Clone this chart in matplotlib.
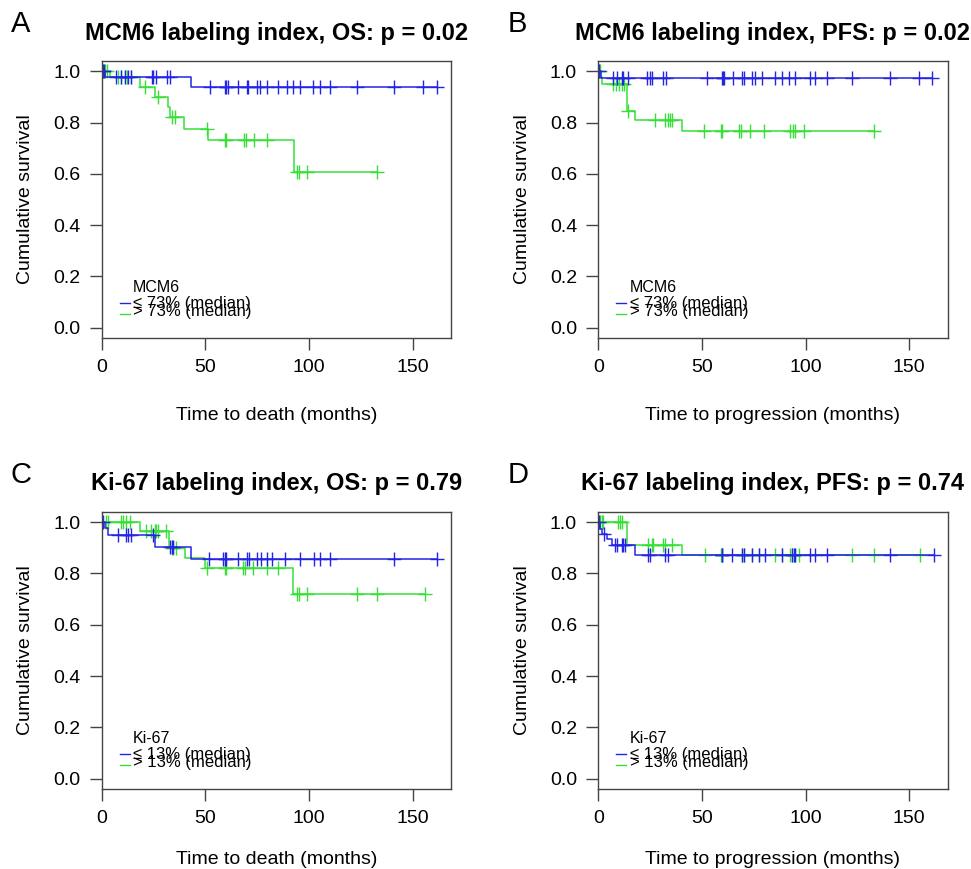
import numpy as np
import matplotlib.pyplot as plt
import matplotlib

matplotlib.rcParams['font.family'] = ['Liberation Sans', 'DejaVu Sans']

# Kaplan-Meier curves: step times, survival after each step, censor times
# panel A: MCM6, OS
a_low_t = [1.4, 43.0]
a_low_s = [0.978, 0.939]
a_low_cens = [0.5, 1.0, 7.1, 9.5, 11.1, 12.7, 14.3, 24.2, 24.8, 26.4, 31.6, 32.9, 52.2, 59.4, 60.2, 61.0,
              65.9, 69.9, 70.7, 74.7, 76.3, 79.6, 85.2, 89.2, 92.4, 95.7, 102.0, 105.3, 110.1, 123.0,
              141.0, 155.2, 161.7]
a_high_t = [3.9, 18.4, 25.6, 32.0, 33.0, 39.8, 51.4, 92.8]
a_high_s = [0.978, 0.939, 0.900, 0.861, 0.822, 0.776, 0.731, 0.608]
a_high_cens = [0.8, 1.5, 2.5, 7.9, 9.5, 11.1, 12.2, 14.3, 20.8, 27.2, 33.7, 35.3, 51.0, 59.4, 60.2, 68.6,
               69.6, 73.4, 79.9, 94.0, 95.3, 98.9, 133.0]

# panel B: MCM6, PFS
b_low_t = [1.3]
b_low_s = [0.975]
b_low_cens = [0.5, 7.2, 8.9, 11.3, 12.1, 14.5, 23.4, 25.0, 25.8, 31.4, 32.5, 52.4, 59.6, 60.1, 60.4, 65.2,
              69.3, 70.1, 74.1, 75.7, 78.9, 85.4, 88.6, 91.8, 95.0, 102.3, 104.7, 110.3, 122.4, 140.9,
              154.6, 161.0]
b_high_t = [1.0, 2.0, 13.7, 17.7, 40.3]
b_high_s = [0.976, 0.952, 0.844, 0.809, 0.766]
b_high_cens = [0.3, 0.6, 7.0, 8.5, 10.2, 11.3, 12.6, 14.5, 27.4, 32.2, 33.5, 34.8, 35.7, 51.2, 59.3, 59.9,
               68.0, 68.9, 73.3, 79.7, 92.6, 93.7, 94.7, 99.0, 132.9]

# panel C: Ki-67, OS
c_low_t = [1.4, 3.0, 25.6, 43.0]
c_low_s = [0.976, 0.951, 0.903, 0.855]
c_low_cens = [0.5, 7.9, 11.9, 12.7, 14.3, 24.8, 32.9, 33.7, 34.4, 51.8, 58.6, 59.4, 60.2, 65.9, 69.9, 71.2,
              74.7, 77.1, 79.6, 82.4, 88.4, 95.7, 102.4, 105.3, 110.1, 141.0, 161.7]
c_high_t = [18.4, 32.5, 40.0, 49.8, 92.4]
c_high_s = [0.966, 0.900, 0.862, 0.822, 0.719]
c_high_cens = [2.3, 3.0, 9.5, 10.3, 11.9, 13.5, 21.6, 24.0, 25.6, 26.4, 27.2, 31.2, 33.7, 34.4, 35.7, 50.6,
               59.4, 60.2, 68.3, 69.1, 73.1, 79.6, 85.2, 94.0, 95.3, 98.9, 123.0, 132.7, 156.0]

# panel D: Ki-67, PFS
d_low_t = [0.8, 1.8, 4.0, 6.5, 17.7]
d_low_s = [0.972, 0.953, 0.933, 0.913, 0.874]
d_low_cens = [0.4, 2.5, 8.1, 8.9, 11.3, 12.1, 12.9, 24.2, 25.0, 32.2, 33.5, 59.6, 59.9, 64.4, 69.3, 70.5,
              74.1, 77.3, 80.2, 88.6, 93.4, 94.2, 95.0, 102.3, 104.7, 110.3, 140.9, 161.8]
d_high_t = [13.7, 40.3]
d_high_s = [0.913, 0.874]
d_high_cens = [0.8, 1.6, 2.4, 9.7, 10.5, 11.3, 24.2, 25.8, 26.6, 31.4, 32.2, 35.5, 51.5, 59.3, 59.9, 69.3,
               70.1, 74.1, 77.3, 85.4, 88.6, 92.6, 93.4, 94.7, 96.6, 122.4, 132.9, 155.4]

letters = ['A', 'B', 'C', 'D']
titles = ['MCM6 labeling index, OS: p = 0.02', 'MCM6 labeling index, PFS: p = 0.02',
          'Ki-67 labeling index, OS: p = 0.79', 'Ki-67 labeling index, PFS: p = 0.74']
xlabels = ['Time to death (months)', 'Time to progression (months)',
           'Time to death (months)', 'Time to progression (months)']
legend_titles = ['MCM6', 'MCM6', 'Ki-67', 'Ki-67']
legend_labels = [['\u2264 73% (median)', '> 73% (median)'], ['\u2264 73% (median)', '> 73% (median)'],
                 ['\u2264 13% (median)', '> 13% (median)'], ['\u2264 13% (median)', '> 13% (median)']]
curves = [
    ((a_low_t, a_low_s, a_low_cens), (a_high_t, a_high_s, a_high_cens)),
    ((b_low_t, b_low_s, b_low_cens), (b_high_t, b_high_s, b_high_cens)),
    ((c_low_t, c_low_s, c_low_cens), (c_high_t, c_high_s, c_high_cens)),
    ((d_low_t, d_low_s, d_low_cens), (d_high_t, d_high_s, d_high_cens)),
]

BLUE = '#2424e6'
GREEN = '#36e036'
BOX = '#444444'

fig = plt.figure(figsize=(9.71, 8.69), dpi=100)
positions = [[0.1047, 0.611, 0.3597, 0.3188], [0.6162, 0.611, 0.3597, 0.3188],
             [0.1047, 0.0921, 0.3597, 0.3188], [0.6162, 0.0921, 0.3597, 0.3188]]
xlabel_y = [-0.25, -0.25, -0.224, -0.224]


def km_curve(ax, t, s, cens, color):
    tmax = max(max(cens), max(t))
    xs = [0.0] + list(t) + [tmax]
    ys = [1.0] + list(s) + [s[-1]]
    ax.step(xs, ys, where='post', color=color, lw=1.1)
    lev = np.array([1.0] + list(s))
    idx = np.searchsorted(np.array(t), np.array(cens), side='right')
    ax.plot(cens, lev[idx], ls='none', marker='+', ms=10, mew=1.0, color=color)


for i in range(4):
    ax = fig.add_axes(positions[i])
    low, high = curves[i]
    km_curve(ax, *high, GREEN)
    km_curve(ax, *low, BLUE)

    ax.set_xlim(0, 168.5)
    ax.set_ylim(-0.04, 1.04)
    ax.set_xticks([0, 50, 100, 150])
    ax.set_yticks([0.0, 0.2, 0.4, 0.6, 0.8, 1.0])
    ax.set_yticklabels(['0.0', '0.2', '0.4', '0.6', '0.8', '1.0'])
    ax.tick_params(length=8.3, width=1.0, color=BOX, labelsize=14, pad=7)
    for sp in ax.spines.values():
        sp.set_color(BOX)
        sp.set_linewidth(1.0)

    ax.set_xlabel(xlabels[i], fontsize=14)
    ax.xaxis.set_label_coords(0.5, xlabel_y[i])
    ax.set_ylabel('Cumulative survival', fontsize=14)
    ax.yaxis.set_label_coords(-0.194, 0.5)

    ax.text(0.5, 1.101, titles[i], transform=ax.transAxes, ha='center', va='center',
            fontsize=17, fontweight='bold')
    ax.text(-0.26, 1.135, letters[i], transform=ax.transAxes, ha='left', va='center', fontsize=21)

    # legend drawn by hand, rows overlap as in the original
    ax.text(0.09, 0.182, legend_titles[i], transform=ax.transAxes, ha='left', va='center', fontsize=11.5)
    ax.plot([0.052, 0.08], [0.128, 0.128], transform=ax.transAxes, color=BLUE, lw=1.0)
    ax.plot([0.052, 0.08], [0.088, 0.088], transform=ax.transAxes, color=GREEN, lw=1.0)
    ax.text(0.09, 0.124, legend_labels[i][0], transform=ax.transAxes, ha='left', va='center', fontsize=12)
    ax.text(0.09, 0.097, legend_labels[i][1], transform=ax.transAxes, ha='left', va='center', fontsize=12)

plt.savefig('out.png', dpi=100)
